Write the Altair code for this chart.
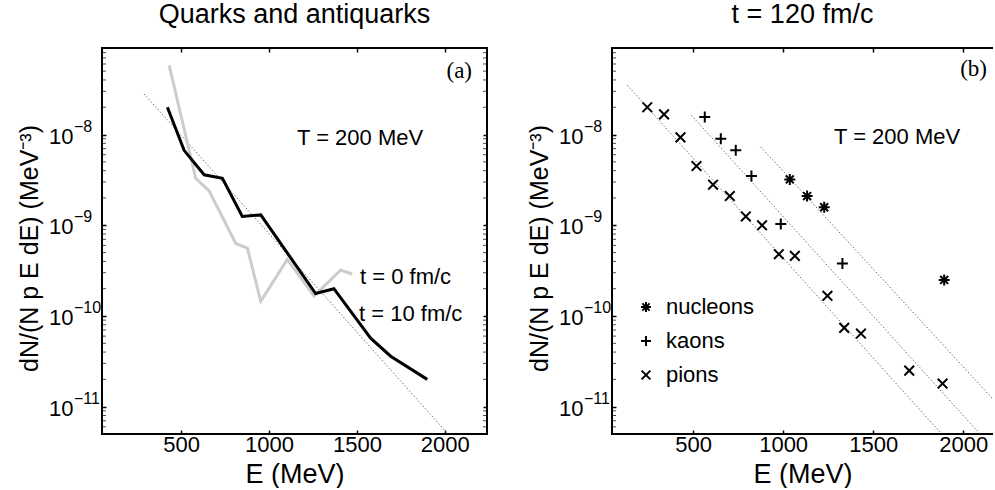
import altair as alt
import pandas as pd

FONT = "Liberation Sans"

# ---------------- data ----------------
# panel (a): quarks and antiquarks, t = 10 fm/c (black) and t = 0 fm/c (grey)
e_t10 = [422, 517, 631, 735, 848, 953, 1265, 1369, 1578, 1692, 1900]
v_t10 = [2.0e-8, 6.7e-9, 3.6e-9, 3.3e-9, 1.25e-9, 1.3e-9, 1.77e-10, 2.0e-10, 5.7e-11, 3.6e-11, 2.0e-11]
e_t0 = [432, 583, 659, 811, 877, 953, 1104, 1256, 1407, 1473]
v_t0 = [5.8e-8, 3.3e-9, 2.4e-9, 6.3e-10, 5.6e-10, 1.45e-10, 4.2e-10, 1.66e-10, 3.2e-10, 2.9e-10]
e_fit_a = [290, 2010]
v_fit_a = [2.8e-8, 5.2e-12]

# panel (b): hadrons at t = 120 fm/c
e_pions = [246, 339, 430, 519, 611, 704, 793, 883, 976, 1065, 1246, 1339, 1432, 1700, 1885]
v_pions = [2.0e-8, 1.67e-8, 9.3e-9, 4.5e-9, 2.8e-9, 2.1e-9, 1.25e-9, 1.0e-9, 4.8e-10,
           4.6e-10, 1.67e-10, 7.4e-11, 6.4e-11, 2.5e-11, 1.8e-11]
e_kaons = [565, 654, 737, 824, 987, 1329]
v_kaons = [1.56e-8, 9.0e-9, 6.7e-9, 3.5e-9, 1.03e-9, 3.8e-10]
e_nucl = [1037, 1133, 1228, 1894]
v_nucl = [3.2e-9, 2.1e-9, 1.58e-9, 2.5e-10]
e_fit_pions = [135, 1880]
v_fit_pions = [3.5e-8, 5.0e-12]
e_fit_kaons = [491, 2093]
v_fit_kaons = [1.63e-8, 5.0e-12]
e_fit_nucl = [876, 2167]
v_fit_nucl = [7.3e-9, 1.2e-11]

species = ["nucleons", "kaons", "pions"]

# axis ticks / labels
x_ticks = [500, 1000, 1500, 2000]
y_decades = [1e-8, 1e-9, 1e-10, 1e-11]
y_exponents = ["\u22128", "\u22129", "\u221210", "\u221211"]
y_minor = [m * 10.0 ** e for e in range(-12, -7) for m in range(2, 10)
           if 5.0e-12 <= m * 10.0 ** e < 8.9e-8]

# ---------------- layout ----------------
WA, WB, H = 385, 381, 386
XA = [50, 2240]
XB = [50, 2165]
YD = [5.0e-12, 9.0e-8]

PLUS = "M-1,0L1,0M0,-1L0,1"
CROSS = "M-0.88,-0.88L0.88,0.88M-0.88,0.88L0.88,-0.88"
AST = "M-1,0L1,0M0,-1L0,1M-0.72,-0.72L0.72,0.72M-0.72,0.72L0.72,-0.72"

ylab_df = pd.DataFrame({"v": y_decades, "base": ["10"] * 4, "exp": y_exponents})
minor_df = pd.DataFrame({"v": y_minor})


def yscale():
    return alt.Scale(type="log", domain=YD, nice=False)


def bottom_axis():
    return alt.Axis(values=x_ticks, format="d", tickSize=4, offset=-4, tickColor="black",
                    tickWidth=1.5, domain=False, grid=False, labelFontSize=22, labelFont=FONT,
                    labelColor="black", labelPadding=0, title="E (MeV)", titleFontSize=27,
                    titleFont=FONT, titleFontWeight="normal", titleColor="black", titlePadding=6)


def top_axis():
    return alt.Axis(orient="top", values=x_ticks, tickSize=4, offset=-4, tickColor="black",
                    tickWidth=1.5, domain=False, grid=False, labels=False, title=None)


def left_axis():
    return alt.Axis(values=y_decades, tickSize=4, offset=-4, tickColor="black", tickWidth=1.5,
                    domain=False, grid=False, labels=False,
                    title="dN/(N p E dE) (MeV\u207B\u00B3)", titleFontSize=25, titleFont=FONT,
                    titleFontWeight="normal", titleColor="black", titleAngle=270,
                    titleX=-77, titleY=H / 2 + 7, titleAlign="center", titleBaseline="middle")


def right_axis():
    return alt.Axis(orient="right", values=y_decades, tickSize=4, offset=-4, tickColor="black",
                    tickWidth=1.5, domain=False, grid=False, labels=False, title=None)


def ylabels():
    base = alt.Chart(ylab_df).mark_text(align="left", baseline="middle", fontSize=22,
                                        font=FONT, color="black", dy=2).encode(
        x=alt.value(-53), y=alt.Y("v:Q", scale=yscale(), axis=None), text="base:N")
    exp = alt.Chart(ylab_df).mark_text(align="left", baseline="middle", fontSize=16,
                                       font=FONT, color="black", dy=-8).encode(
        x=alt.value(-28), y=alt.Y("v:Q", scale=yscale(), axis=None), text="exp:N")
    return [base, exp]


def minor_ticks(xpos):
    return alt.Chart(minor_df).mark_tick(orient="horizontal", color="black", size=3,
                                         thickness=1).encode(
        x=alt.value(xpos), y=alt.Y("v:Q", scale=yscale(), axis=None))


def note(text, x, y, size=22, align="left", font=FONT):
    return alt.Chart(pd.DataFrame({"t": [text]})).mark_text(
        align=align, baseline="alphabetic", fontSize=size, font=font, color="black").encode(
        x=alt.value(x), y=alt.value(y), text="t:N")


# ---------------- panel (a) ----------------
df_t10 = pd.DataFrame({"E": e_t10, "v": v_t10})
df_t0 = pd.DataFrame({"E": e_t0, "v": v_t0})
df_fa = pd.DataFrame({"E": e_fit_a, "v": v_fit_a})
xsa = alt.Scale(domain=XA, nice=False, zero=False)

fit_a = alt.Chart(df_fa).mark_line(color="#555555", strokeWidth=1, strokeDash=[1.2, 2.2],
                                   clip=True).encode(
    x=alt.X("E:Q", scale=xsa, axis=top_axis()),
    y=alt.Y("v:Q", scale=yscale(), axis=right_axis()))
grey = alt.Chart(df_t0).mark_line(color="#cccccc", strokeWidth=3, clip=True).encode(
    x=alt.X("E:Q", scale=xsa, axis=None), y=alt.Y("v:Q", scale=yscale(), axis=None))
black = alt.Chart(df_t10).mark_line(color="black", strokeWidth=3, clip=True).encode(
    x=alt.X("E:Q", scale=xsa, axis=bottom_axis()),
    y=alt.Y("v:Q", scale=yscale(), axis=left_axis()))

panel_a = alt.layer(
    fit_a, grey, black, *ylabels(), minor_ticks(2.5), minor_ticks(WA - 2.5),
    note("T = 200 MeV", 195, 97),
    note("t = 0 fm/c", 258, 236),
    note("t = 10 fm/c", 257, 273),
    note("(a)", 370, 30, size=23, align="right", font="Liberation Serif"),
).resolve_axis(x="independent", y="independent").properties(
    width=WA, height=H, title="Quarks and antiquarks",
    view=alt.ViewBackground(stroke="black", strokeWidth=2))

# ---------------- panel (b) ----------------
xsb = alt.Scale(domain=XB, nice=False, zero=False)
df_pts = pd.DataFrame({
    "E": e_nucl + e_kaons + e_pions,
    "v": v_nucl + v_kaons + v_pions,
    "s": ["nucleons"] * len(e_nucl) + ["kaons"] * len(e_kaons) + ["pions"] * len(e_pions),
})
df_fits = pd.DataFrame({
    "E": e_fit_pions + e_fit_kaons + e_fit_nucl,
    "v": v_fit_pions + v_fit_kaons + v_fit_nucl,
    "g": ["pions"] * 2 + ["kaons"] * 2 + ["nucleons"] * 2,
})

fits_b = alt.Chart(df_fits).mark_line(color="#555555", strokeWidth=1, strokeDash=[1.2, 2.2],
                                      clip=True).encode(
    x=alt.X("E:Q", scale=xsb, axis=top_axis()),
    y=alt.Y("v:Q", scale=yscale(), axis=None),
    detail="g:N")
pts_b = alt.Chart(df_pts).mark_point(filled=False, color="black", strokeWidth=2, size=121,
                                     opacity=1).encode(
    x=alt.X("E:Q", scale=xsb, axis=bottom_axis()),
    y=alt.Y("v:Q", scale=yscale(), axis=left_axis()),
    shape=alt.Shape("s:N", scale=alt.Scale(domain=species, range=[AST, PLUS, CROSS]),
                    legend=alt.Legend(orient="none", legendX=23, legendY=248, title=None,
                                      labelFontSize=22, labelFont=FONT, labelColor="black",
                                      symbolStrokeColor="black", symbolStrokeWidth=2,
                                      symbolSize=100, padding=0,
                                      rowPadding=12, labelOffset=9)))

panel_b = alt.layer(
    fits_b, pts_b, *ylabels(), minor_ticks(2.5),
    note("T = 200 MeV", 222, 96),
    note("(b)", 375, 28, size=23, align="right", font="Liberation Serif"),
).resolve_axis(x="independent", y="independent").properties(
    width=WB, height=H, title="t = 120 fm/c",
    view=alt.ViewBackground(stroke="black", strokeWidth=2,
                            strokeDash=[WB, H, WB + H, H]))

chart = alt.hconcat(panel_a, panel_b, spacing=37).resolve_legend(
    shape="independent"
).properties(
    padding={"left": 16, "top": 0, "right": 0, "bottom": 0}
).configure(font=FONT).configure_title(
    fontSize=27, fontWeight="normal", font=FONT, color="black", anchor="middle",
    baseline="alphabetic", offset=18
).configure_view(strokeWidth=0)

chart.save("out.html", embed_options={"renderer": "svg", "actions": False})
